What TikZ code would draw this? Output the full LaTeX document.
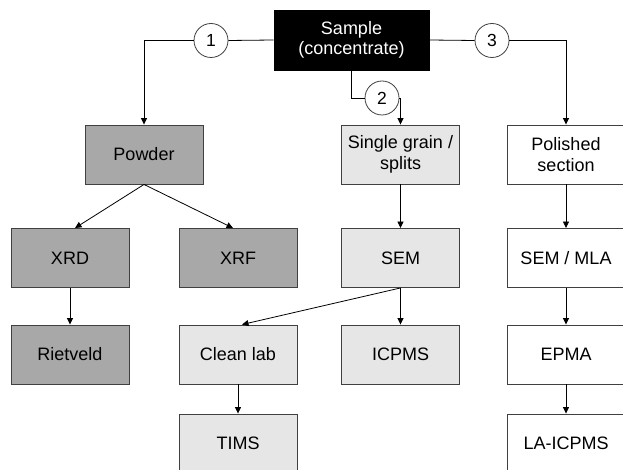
\documentclass[tikz,border=0pt]{standalone}
\usepackage{fontspec}
\setmainfont{Liberation Sans}
\usetikzlibrary{arrows.meta}
\definecolor{darkbox}{HTML}{A8A8A8}
\definecolor{lightbox}{HTML}{E6E6E6}
\definecolor{edgegray}{HTML}{404040}

\begin{document}
\begin{tikzpicture}[x=1pt, y=-1pt]

\tikzset{
  box/.style = {rectangle, draw=edgegray, line width=0.9pt, minimum width=118pt, minimum height=59pt,
                align=center, font=\fontsize{18}{20.5}\selectfont, inner sep=2pt},
  dark/.style = {box, fill=darkbox},
  light/.style = {box, fill=lightbox},
  plain/.style = {box, fill=white},
  num/.style = {circle, draw=edgegray, fill=white, line width=0.8pt, minimum size=34pt, inner sep=0pt,
                font=\fontsize{17.5}{17.5}\selectfont},
  arr/.style = {-{Triangle[width=6pt,length=6.5pt]}, line width=0.8pt}
}

\clip (0,0) rectangle (623,470);
\fill[white] (0,0) rectangle (623,470);

\node[box, fill=black, draw=black, text=white, minimum width=155pt, minimum height=60pt] (smp) at (351.5,40) {Sample\\(concentrate)};

\node[num] (n1) at (211,40.5) {1};
\node[num] (n2) at (382,98) {2};
\node[num] (n3) at (492,40.5) {3};

\node[dark] (pow) at (144,154.5) {Powder};
\node[dark] (xrd) at (70,258) {XRD};
\node[dark] (xrf) at (238,258) {XRF};
\node[dark] (riet) at (70,354.5) {Rietveld};

\node[light] (sgl) at (400.5,154.5) {Single grain /\\splits};
\node[light] (sem) at (400.5,258) {SEM};
\node[light] (cln) at (238,354.5) {Clean lab};
\node[light] (icp) at (400.5,354.5) {ICPMS};
\node[light] (tims) at (238,443.5) {TIMS};

\node[plain] (pol) at (566,154.5) {Polished\\section};
\node[plain] (mla) at (566,258) {SEM / MLA};
\node[plain] (epma) at (566,354.5) {EPMA};
\node[plain] (lai) at (566,443.5) {LA-ICPMS};

% routes out of the sample
\draw[line width=0.8pt] (smp.west) -- (n1.east);
\draw[arr] (n1.west) -| (pow.north);
\draw[line width=0.8pt] (smp.south) |- (n2.west);
\draw[arr] (n2.east) -| (sgl.north);
\draw[line width=0.8pt] (smp.east) -- (n3.west);
\draw[arr] (n3.east) -| (pol.north);

\draw[arr] (pow.south) -- ([xshift=5pt]xrd.north);
\draw[arr] (pow.south) -- ([xshift=-5pt]xrf.north);
\draw[arr] (xrd) -- (riet);

\draw[arr] (sgl) -- (sem);
\draw[arr] (sem.south) -- ([xshift=4pt]cln.north);
\draw[arr] (sem) -- (icp);
\draw[arr] (cln) -- (tims);

\draw[arr] (pol) -- (mla);
\draw[arr] (mla) -- (epma);
\draw[arr] (epma) -- (lai);

\end{tikzpicture}
\end{document}
